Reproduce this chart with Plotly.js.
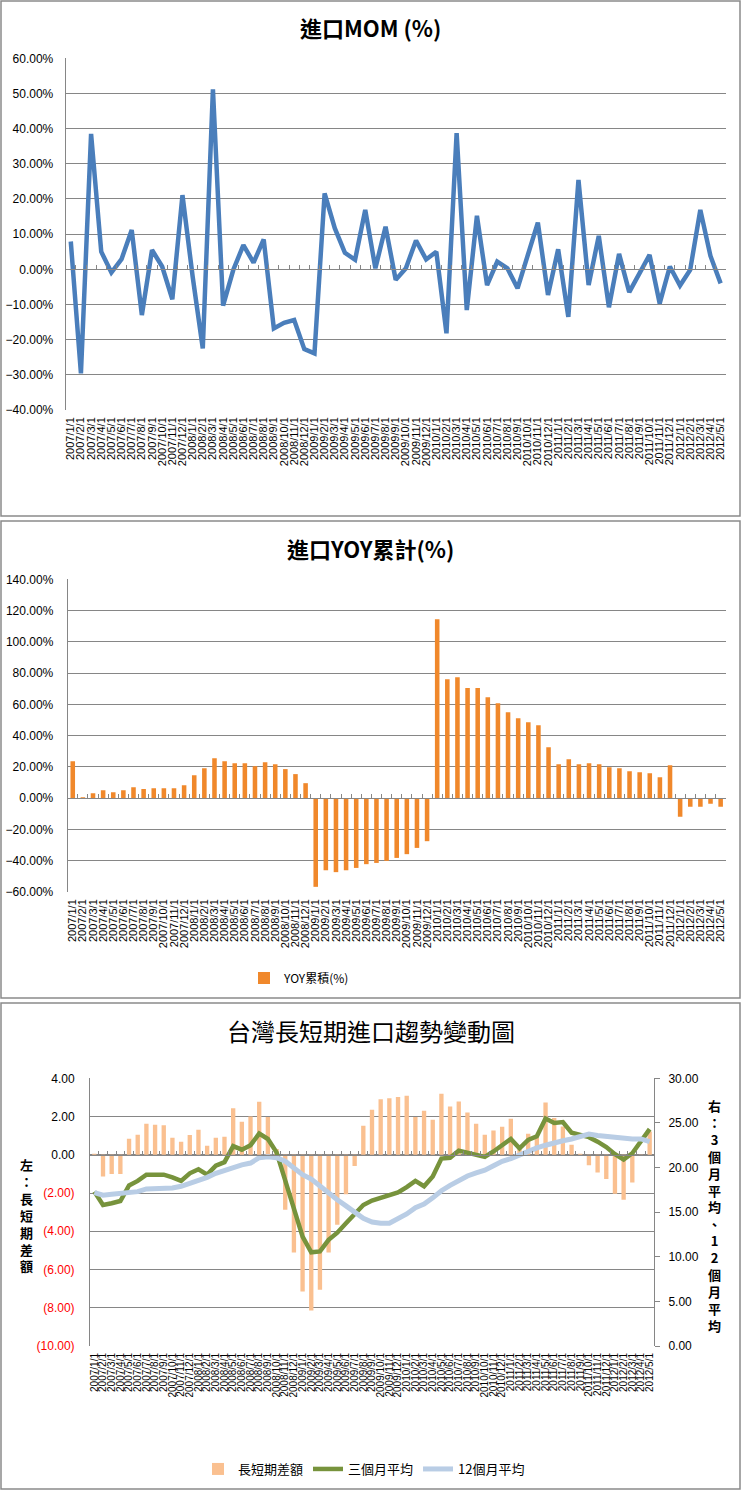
<!DOCTYPE html>
<html><head><meta charset="utf-8">
<script src="https://cdn.plot.ly/plotly-3.0.1.min.js"></script>
<style>html,body{margin:0;padding:0;background:#fff}#chart{width:741px;height:1490px}</style>
</head><body><div id="chart"></div>
<script>
// ---------- data ----------
const months = [
"2007/1/1","2007/2/1","2007/3/1","2007/4/1","2007/5/1","2007/6/1","2007/7/1","2007/8/1","2007/9/1","2007/10/1","2007/11/1","2007/12/1",
"2008/1/1","2008/2/1","2008/3/1","2008/4/1","2008/5/1","2008/6/1","2008/7/1","2008/8/1","2008/9/1","2008/10/1","2008/11/1","2008/12/1",
"2009/1/1","2009/2/1","2009/3/1","2009/4/1","2009/5/1","2009/6/1","2009/7/1","2009/8/1","2009/9/1","2009/10/1","2009/11/1","2009/12/1",
"2010/1/1","2010/2/1","2010/3/1","2010/4/1","2010/5/1","2010/6/1","2010/7/1","2010/8/1","2010/9/1","2010/10/1","2010/11/1","2010/12/1",
"2011/1/1","2011/2/1","2011/3/1","2011/4/1","2011/5/1","2011/6/1","2011/7/1","2011/8/1","2011/9/1","2011/10/1","2011/11/1","2011/12/1",
"2012/1/1","2012/2/1","2012/3/1","2012/4/1","2012/5/1"];

const momPct = [7.9,-29.6,38.5,5.0,-0.9,2.9,11.2,-13.0,5.5,0.8,-8.5,21.1,
-2.0,-22.5,51.2,-10.3,-0.2,6.9,1.9,8.5,-16.8,-15.2,-14.4,-22.7,
-23.9,21.6,11.7,4.7,2.7,16.9,0.3,12.1,-3.0,0.3,8.2,2.8,
5.0,-18.2,38.7,-11.6,15.2,-4.5,2.2,0.3,-5.4,3.6,13.3,-7.3,
5.7,-13.5,25.4,-4.5,9.5,-10.8,4.4,-6.5,-1.3,4.1,-9.7,0.8,
-4.6,-0.2,16.9,3.8,-4.0];

const yoyPct = [23.7,0.6,3.2,5.1,3.8,5.1,7.0,5.8,6.4,6.4,6.4,8.3,
14.7,19.2,25.6,23.7,22.4,22.4,20.5,23.0,21.7,18.6,15.4,9.6,
-56.7,-46.1,-47.3,-46.1,-44.6,-42.2,-41.4,-40.1,-38.2,-35.8,-31.8,-27.5,
114.5,76.1,77.4,70.4,70.4,64.6,60.8,55.0,51.2,48.6,46.7,32.6,
21.7,24.9,21.7,22.4,21.7,19.8,19.2,17.3,16.6,16.0,13.4,21.1,
-11.9,-5.5,-5.5,-3.6,-5.5];

const diffValues = [0.05,-1.13,-1.0,-1.0,0.84,1.05,1.62,1.57,1.55,0.89,0.68,1.03,
1.31,0.47,0.89,0.94,2.44,1.73,2.0,2.77,1.97,0.3,-2.88,-5.11,
-7.15,-8.14,-7.06,-5.11,-3.66,-2.06,-0.58,1.52,2.35,2.91,2.96,3.02,
3.09,1.97,2.30,1.83,3.19,2.53,2.79,2.21,1.62,1.05,1.27,1.46,
1.88,0.35,1.10,0.9,2.74,1.92,1.48,0.52,0.05,-0.55,-0.92,-1.27,
-2.04,-2.35,-1.45,-0.05,1.22];

const avg3 = [17.3,15.8,16.0,16.25,18.0,18.5,19.2,19.2,19.2,18.9,18.5,19.35,
19.8,19.2,20.2,20.6,22.4,22.0,22.5,23.8,23.2,21.7,18.6,15.2,
12.25,10.5,10.6,11.9,12.7,13.75,14.7,15.8,16.3,16.6,16.8,17.2,
17.8,18.5,17.9,19.0,21.0,21.1,21.9,21.7,21.5,21.2,21.8,22.5,
23.2,22.15,23.1,23.5,25.5,25.0,25.1,23.9,23.7,23.4,22.9,22.3,
21.5,20.9,21.6,22.9,24.3];

const avg12 = [17.2,16.9,17.0,17.1,17.2,17.3,17.6,17.6,17.7,17.7,17.9,18.2,
18.5,18.9,19.35,19.7,20.0,20.3,20.5,21.1,21.2,21.1,20.7,19.9,
19.2,18.7,17.9,17.1,16.4,15.7,15.05,14.3,13.9,13.75,13.75,14.2,
14.8,15.5,15.9,16.6,17.4,18.0,18.6,19.05,19.4,19.7,20.2,20.7,
21.0,21.4,21.9,22.2,22.5,22.8,23.0,23.2,23.5,23.75,23.6,23.5,
23.35,23.3,23.2,23.2,22.9];

const diffTickVals = [4,2,0,-2,-4,-6,-8,-10];
const diffTickText = ["4.00","2.00","0.00","(2.00)","(4.00)","(6.00)","(8.00)","(10.00)"];

const titles = ["進口MOM (%)","進口YOY累計(%)","台灣長短期進口趨勢變動圖"];
const seriesNames = ["MOM(%)","YOY累積(%)","長短期差額","三個月平均","12個月平均"];
const leftTitle = ["左","：","長","短","期","差","額"];
const rightTitle = ["右","：","3","個","月","平","均","、","1","2","個","月","平","均"];

// ---------- layout helpers ----------
const W = 741, H = 1490;
const fx = px => px / W;
const fy = py => 1 - py / H;
const FONT = "Liberation Sans, Noto Sans CJK TC, sans-serif";
const CJK = "Noto Sans CJK TC, sans-serif";
const GRID = "#868686";
const bounds = months.map((m, i) => i - 0.5).concat([months.length - 0.5]);

function catAxis(x0, x1, anchor, fs) {
  return {domain:[fx(x0), fx(x1)], anchor:anchor, type:'category', range:[-0.5, months.length-0.5],
    tickmode:'array', tickvals:months, ticktext:months, tickangle:-90,
    tickfont:{size:fs, color:'#000', family:FONT}, showgrid:false, showline:false, zeroline:false,
    ticks:'', ticklabelstandoff:4, fixedrange:true};
}
function zeroTickAxis(over, py) {
  return {overlaying:over, anchor:'free', position:fy(py), type:'linear', range:[-0.5, months.length-0.5],
    tickmode:'array', tickvals:bounds, ticks:'inside', ticklen:4, tickcolor:GRID, tickwidth:1,
    showline:true, linecolor:GRID, linewidth:1, showticklabels:false, showgrid:false, zeroline:false, fixedrange:true};
}

const traces = [
  {type:'scatter', mode:'lines', x:months, y:momPct, name:seriesNames[0], xaxis:'x', yaxis:'y',
   line:{color:'#4A7EBB', width:4.5}, legend:'legend'},
  {type:'scatter', x:[], y:[], xaxis:'x2', yaxis:'y', showlegend:false},
  {type:'bar', x:months, y:yoyPct, name:seriesNames[1], xaxis:'x3', yaxis:'y3', width:0.45,
   marker:{color:'#F0882B'}, legend:'legend2'},
  {type:'scatter', x:[], y:[], xaxis:'x4', yaxis:'y3', showlegend:false},
  {type:'bar', x:months, y:diffValues, name:seriesNames[2], xaxis:'x5', yaxis:'y5', width:0.5,
   marker:{color:'#FAC090'}, legend:'legend3'},
  {type:'scatter', x:[], y:[], xaxis:'x6', yaxis:'y5', showlegend:false},
  {type:'scatter', mode:'lines', x:months, y:avg3, name:seriesNames[3], xaxis:'x5', yaxis:'y6',
   line:{color:'#77933C', width:4.5}, legend:'legend3'},
  {type:'scatter', mode:'lines', x:months, y:avg12, name:seriesNames[4], xaxis:'x5', yaxis:'y6',
   line:{color:'#B9CDE5', width:5}, legend:'legend3'}
];

const layout = {
  width:W, height:H, margin:{l:0,r:0,t:0,b:0}, paper_bgcolor:'#fff', plot_bgcolor:'rgba(0,0,0,0)',
  font:{family:FONT, size:12, color:'#000'}, barmode:'overlay',
  // chart 1
  xaxis: catAxis(65.7, 725.7, 'y', 11),
  yaxis: {domain:[fy(410), fy(58.3)], anchor:'x', range:[-40,60], tick0:0, dtick:10, tickformat:'.2f', ticksuffix:'%',
    showgrid:true, gridcolor:GRID, gridwidth:1, showline:true, linecolor:GRID, zeroline:false, ticks:'',
    ticklabelstandoff:9, tickfont:{size:12}, fixedrange:true},
  xaxis2: zeroTickAxis('x', 269.3),
  // chart 2
  xaxis3: catAxis(67.7, 725.7, 'y3', 11),
  yaxis3: {domain:[fy(892), fy(579.3)], anchor:'x3', range:[-60,140], tick0:0, dtick:20, tickformat:'.2f', ticksuffix:'%',
    showgrid:true, gridcolor:GRID, gridwidth:1, showline:true, linecolor:GRID, zeroline:false, ticks:'',
    ticklabelstandoff:11, tickfont:{size:12}, fixedrange:true},
  xaxis4: zeroTickAxis('x3', 798.2),
  // chart 3
  xaxis5: catAxis(90, 654, 'y5', 10),
  yaxis5: {domain:[fy(1346), fy(1078.3)], anchor:'x5', range:[-10,4], tickmode:'array', tickvals:diffTickVals,
    ticktext:diffTickText.map(t => t.startsWith('(') ? '<span style="color:#FF0000">'+t+'</span>' : t),
    showgrid:true, gridcolor:GRID, gridwidth:1, showline:true, linecolor:GRID, zeroline:false, ticks:'',
    ticklabelstandoff:12, tickfont:{size:12}, fixedrange:true},
  yaxis6: {overlaying:'y5', side:'right', anchor:'x5', range:[0,30], tick0:0, dtick:5, tickformat:'.2f',
    showgrid:false, showline:true, linecolor:GRID, zeroline:false, ticks:'outside', ticklen:5, tickcolor:GRID,
    ticklabelstandoff:6, tickfont:{size:12}, fixedrange:true},
  xaxis6: zeroTickAxis('x5', 1154.8),
  legend: {orientation:'h', x:fx(240), y:fy(493), xanchor:'left', yanchor:'middle', bgcolor:'rgba(0,0,0,0)',
    font:{size:11, family:FONT}},
  legend2: {orientation:'h', x:fx(244), y:fy(978), xanchor:'left', yanchor:'middle', bgcolor:'rgba(0,0,0,0)',
    font:{size:12, family:CJK}},
  legend3: {orientation:'h', x:fx(198), y:fy(1469), xanchor:'left', yanchor:'middle', bgcolor:'rgba(0,0,0,0)',
    font:{size:13, family:CJK}},
  shapes: [
    {type:'rect', xref:'paper', yref:'paper', x0:fx(1), x1:fx(740), y0:fy(516), y1:fy(1), line:{color:'#8a8a8a', width:1.5}},
    {type:'rect', xref:'paper', yref:'paper', x0:fx(1), x1:fx(740), y0:fy(998), y1:fy(521), line:{color:'#8a8a8a', width:1.5}},
    {type:'rect', xref:'paper', yref:'paper', x0:fx(1), x1:fx(740), y0:fy(1489), y1:fy(1003), line:{color:'#8a8a8a', width:1.5}}
  ],
  annotations: [
    {xref:'paper', yref:'paper', x:fx(370), y:fy(27), text:titles[0], showarrow:false, xanchor:'center', yanchor:'middle',
     font:{family:CJK, size:22, weight:'bold', color:'#000'}},
    {xref:'paper', yref:'paper', x:fx(370), y:fy(548), text:titles[1], showarrow:false, xanchor:'center', yanchor:'middle',
     font:{family:CJK, size:22, weight:'bold', color:'#000'}},
    {xref:'paper', yref:'paper', x:fx(371), y:fy(1030), text:titles[2], showarrow:false, xanchor:'center', yanchor:'middle',
     font:{family:CJK, size:24, color:'#000'}},
    {xref:'paper', yref:'paper', x:fx(27), y:fy(1215), text:leftTitle.join('<br>'), showarrow:false, xanchor:'center', yanchor:'middle',
     font:{family:CJK, size:13, weight:'bold', color:'#000'}},
    {xref:'paper', yref:'paper', x:fx(714), y:fy(1215), text:rightTitle.join('<br>'), showarrow:false, xanchor:'center', yanchor:'middle',
     font:{family:CJK, size:13, weight:'bold', color:'#000'}}
  ]
};

Plotly.newPlot('chart', traces, layout, {staticPlot:true, displayModeBar:false});
</script></body></html>
